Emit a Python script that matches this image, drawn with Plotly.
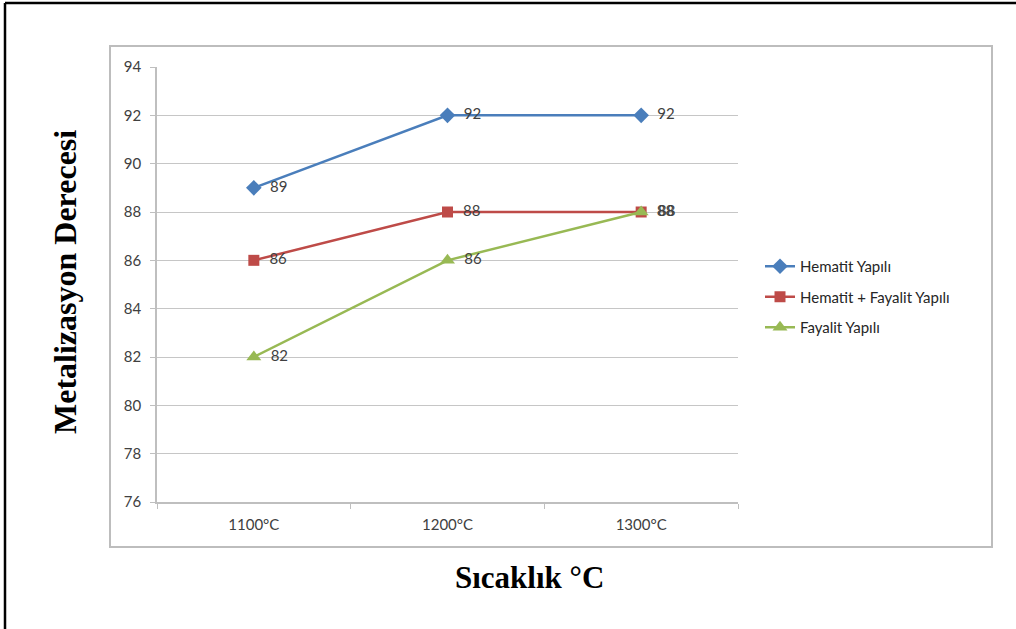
import plotly.graph_objects as go

categories = ["1100°C", "1200°C", "1300°C"]
hematit = [89, 92, 92]
hem_fay = [86, 88, 88]
fayalit = [82, 86, 88]
series_names = ["Hematit Yapılı", "Hematit + Fayalit Yapılı", "Fayalit Yapılı"]
y_ticks = [76, 78, 80, 82, 84, 86, 88, 90, 92, 94]

W, H = 1016, 629
L, R, T, B = 157, 738, 67, 502

def px(x):
    return (x - L) / (R - L)

def py(y):
    return (B - y) / (B - T)

fig = go.Figure()
styles = [
    (hematit, "#4a7ebb", "diamond", 12),
    (hem_fay, "#be4b48", "square", 11),
    (fayalit, "#98b954", "triangle-up", 13),
]
for i, (name, (vals, col, sym, sz)) in enumerate(zip(series_names, styles)):
    fig.add_trace(go.Scatter(
        x=categories, y=vals, name=name, mode="lines+markers+text",
        legendgroup=f"g{i}",
        line=dict(color=col, width=2.5),
        marker=dict(symbol=sym, size=sz, color=col),
        text=["\u00a0\u00a0" + str(v) for v in vals], textposition="middle right",
        textfont=dict(family="Lato, Open Sans, sans-serif", size=15, color="#404040"),
        cliponaxis=False,
    ))

fig.update_layout(
    width=W, height=H,
    margin=dict(l=L, r=W - R, t=T, b=H - B),
    paper_bgcolor="white", plot_bgcolor="white",
    showlegend=True,
    legend=dict(x=px(760), y=py(250), xanchor="left", yanchor="top",
                font=dict(family="Lato, sans-serif", size=15, color="#262626"),
                tracegroupgap=8, itemwidth=30, bgcolor="rgba(0,0,0,0)"),
    xaxis=dict(type="category", range=[-0.5, 2.5], showgrid=False,
               showline=True, linecolor="#bfbfbf", linewidth=1.5,
               ticks="outside", tickson="boundaries", ticklen=5, tickcolor="#bfbfbf",
               ticklabelstandoff=8,
               tickfont=dict(family="Lato, sans-serif", size=15, color="#404040")),
    yaxis=dict(range=[76, 94], tickvals=y_ticks, showgrid=True, gridcolor="#c6c6c6",
               gridwidth=1, showline=True, linecolor="#bfbfbf", linewidth=1.5,
               ticks="outside", ticklen=5, tickcolor="#bfbfbf", zeroline=False,
               ticklabelstandoff=6,
               tickfont=dict(family="Lato, sans-serif", size=15, color="#404040")),
    font=dict(family="Lato, sans-serif"),
)

# Outer black frame and inner gray chart-area frame
fig.add_shape(type="line", xref="paper", yref="paper", x0=px(5), x1=px(5), y0=py(3), y1=py(640),
              line=dict(color="black", width=2.5))
fig.add_shape(type="line", xref="paper", yref="paper", x0=px(5), x1=px(1030), y0=py(3), y1=py(3),
              line=dict(color="black", width=2.5))
fig.add_shape(type="rect", xref="paper", yref="paper", x0=px(110), x1=px(992), y0=py(46), y1=py(547),
              line=dict(color="#bdbdbd", width=2), layer="below")

fig.add_annotation(text="<b>Metalizasyon Derecesi</b>", xref="paper", yref="paper",
                   x=px(65), y=py(282), xanchor="center", yanchor="middle",
                   textangle=-90, showarrow=False,
                   font=dict(family="Liberation Serif, Times New Roman, serif", size=32, color="black"))
fig.add_annotation(text="<b>Sıcaklık °C</b>", xref="paper", yref="paper",
                   x=px(529), y=py(577), xanchor="center", yanchor="middle", showarrow=False,
                   font=dict(family="Liberation Serif, Times New Roman, serif", size=31, color="black"))

fig.write_html("out.html", config={"displayModeBar": False},
               post_script="document.body.style.margin='0';document.body.style.overflow='hidden';")
